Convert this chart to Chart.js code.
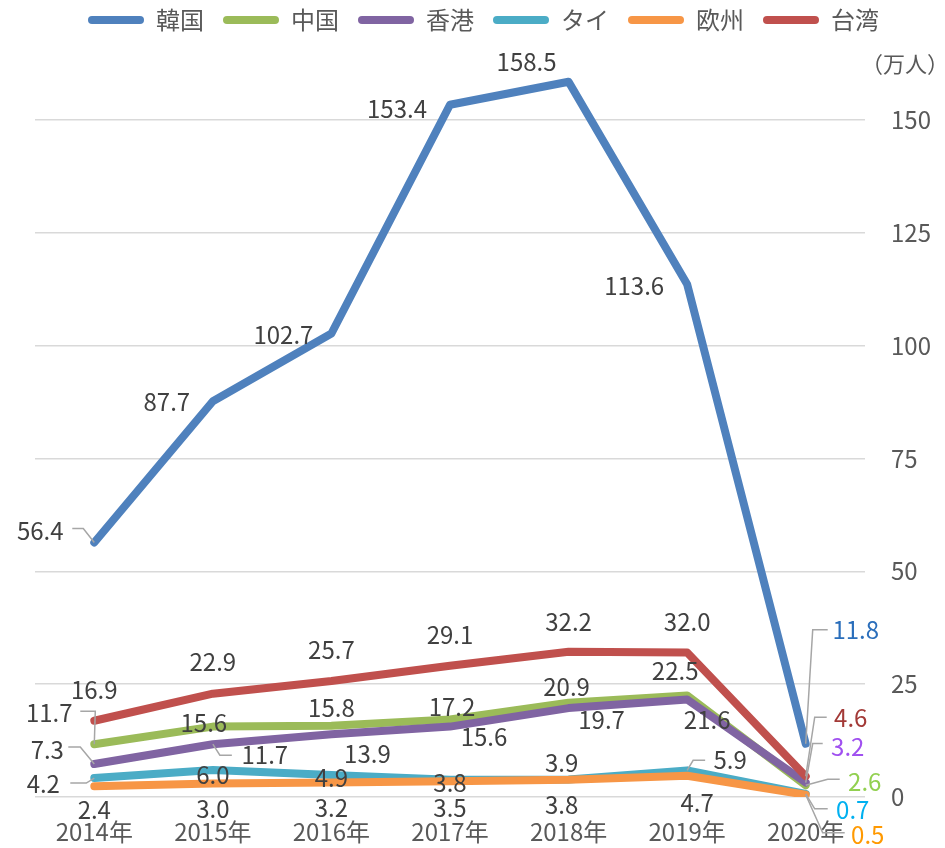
<!DOCTYPE html>
<html lang="ja">
<head>
<meta charset="utf-8">
<script src="https://cdn.jsdelivr.net/npm/chart.js@4/dist/chart.umd.min.js"></script>
<style>
  html, body { margin: 0; padding: 0; background: #fff; }
  #wrap { width: 945px; height: 848px; }
</style>
</head>
<body>
<div id="wrap"><canvas id="graphique"></canvas></div>
<script>
// Données (万人)
const annees = ["2014年", "2015年", "2016年", "2017年", "2018年", "2019年", "2020年"];
const pays = ["韓国", "中国", "香港", "タイ", "欧州", "台湾"];
const coree = [56.4, 87.7, 102.7, 153.4, 158.5, 113.6, 11.8];
const chine = [11.7, 15.6, 15.8, 17.2, 20.9, 22.5, 2.6];
const hongkong = [7.3, 11.7, 13.9, 15.6, 19.7, 21.6, 3.2];
const thailande = [4.2, 6.0, 4.9, 3.8, 3.9, 5.9, 0.7];
const europe = [2.4, 3.0, 3.2, 3.5, 3.8, 4.7, 0.5];
const taiwan = [16.9, 22.9, 25.7, 29.1, 32.2, 32.0, 4.6];

const couleurs = ["#4F81BD", "#9BBB59", "#8064A2", "#4BACC6", "#F79646", "#C0504D"];
// couleur de l'étiquette du dernier point (2020)
const couleurFinParSerie = ["#2A6EBB", "#92D050", "#A050F0", "#00B0F0", "#FF9900", "#A33A37"];

// Décalage des étiquettes par rapport au point [dx, dy] + ligne de rappel éventuelle
const placement = [
  // 韓国
  [[-54, -12, [[-22, -14], [-11, -14]]], [-46, 1], [-48, 1], [-53, 4], [-42, -20], [-53, 2],
   [50, -114, [[22, -114], [7, -114]]]],
  // 中国
  [[-45, -31, [[-14, -33], [1, -33]]], [-9, -4], [0, -18], [2, -13], [-2, -16], [-12, -25],
   [59, -3, [[34, -6], [22, -6]]]],
  // 香港
  [[-47, -14, [[-26, -17], [-14, -17]]], [52, 11, [[19, 11], [7, 11]]], [36, 20], [34, 10], [33, 12], [20, 20],
   [42, -36, [[17, -39], [7, -39]]]],
  // タイ
  [[-51, 6, [[-24, 5], [-8, 5]]], [0, 5], [0, 3], [0, 3], [-7, -17], [43, -10, [[18, -10], [6, -10]]],
   [47, 16, [[22, 15], [9, 15]]]],
  // 欧州
  [[0, 24], [0, 25], [0, 25], [0, 27], [-7, 25], [10, 27], [62, 40, [[39, 38], [17, 38]]]],
  // 台湾
  [[0, -31], [0, -32], [0, -31], [0, -31], [0, -30], [0, -31], [45, -58, [[21, -59], [9, -59]]]]
];

const police = '"Noto Sans CJK JP", "Noto Sans", sans-serif';

// Plugin : étiquettes de données avec lignes de rappel
const etiquettes = {
  id: "etiquettes",
  afterDatasetsDraw(chart) {
    const ctx = chart.ctx;
    ctx.save();
    ctx.font = "24px " + police;
    ctx.textAlign = "center";
    ctx.textBaseline = "middle";
    chart.data.datasets.forEach((ds, i) => {
      const meta = chart.getDatasetMeta(i);
      meta.data.forEach((pt, j) => {
        const p = placement[i][j];
        if (p[2]) {
          ctx.strokeStyle = "#A6A6A6";
          ctx.lineWidth = 1.5;
          ctx.beginPath();
          ctx.moveTo(pt.x + p[2][0][0], pt.y + p[2][0][1]);
          for (let k = 1; k < p[2].length; k++) {
            ctx.lineTo(pt.x + p[2][k][0], pt.y + p[2][k][1]);
          }
          ctx.lineTo(pt.x, pt.y);
          ctx.stroke();
        }
        ctx.fillStyle = j === ds.data.length - 1 ? couleurFinParSerie[i] : "#404040";
        ctx.fillText(ds.data[j].toFixed(1), pt.x + p[0], pt.y + p[1]);
      });
    });
    // unité de l'axe
    ctx.font = "22px " + police;
    ctx.fillStyle = "#595959";
    ctx.fillText("（万人）", 905, 64);
    ctx.restore();
  }
};

const series = [coree, chine, hongkong, thailande, europe, taiwan];

const data = {
  labels: annees,
  datasets: series.map((valeurs, i) => ({
    label: pays[i],
    data: valeurs,
    borderColor: couleurs[i],
    backgroundColor: couleurs[i],
    borderWidth: 8,
    borderCapStyle: "round",
    borderJoinStyle: "round",
    pointRadius: 0,
    tension: 0,
    order: -i // les dernières séries passent au-dessus
  }))
};

// fixe la taille des axes pour caler la zone de tracé
function sansMarges(scale) {
  scale.paddingLeft = 0;
  scale.paddingRight = 0;
  scale.paddingTop = 0;
  scale.paddingBottom = 0;
}

const config = {
  type: "line",
  data: data,
  options: {
    responsive: false,
    animation: false,
    layout: { padding: { top: -11, left: 35, right: 13, bottom: 0 } },
    plugins: {
      tooltip: { enabled: false },
      legend: {
        position: "top",
        labels: {
          font: { family: police, size: 24 },
          color: "#595959",
          boxWidth: 56,
          boxHeight: 8,
          padding: 19,
          useBorderRadius: true,
          borderRadius: 4,
          sort: (a, b) => a.datasetIndex - b.datasetIndex,
          generateLabels(chart) {
            const items = Chart.defaults.plugins.legend.labels.generateLabels(chart);
            items.forEach(it => {
              it.lineWidth = 0;
              it.fillStyle = it.strokeStyle;
              it.borderRadius = 4;
            });
            return items;
          }
        }
      }
    },
    scales: {
      x: {
        offset: true,
        grid: { display: false, drawTicks: false },
        border: { display: false },
        ticks: { font: { family: police, size: 24 }, color: "#595959", padding: 20, maxRotation: 0 },
        afterFit(scale) {
          scale.height = 51;
          sansMarges(scale);
        }
      },
      y: {
        position: "right",
        min: 0,
        max: 167.3,
        grid: { color: "#D9D9D9", lineWidth: 1.5, drawTicks: false },
        border: { display: false },
        ticks: { stepSize: 25, font: { family: police, size: 24 }, color: "#595959", padding: 26 },
        afterBuildTicks(scale) {
          scale.ticks = scale.ticks.filter(t => t.value % 25 === 0);
        },
        afterFit(scale) {
          scale.width = 67;
          sansMarges(scale);
        }
      }
    }
  },
  plugins: [etiquettes]
};

const canvas = document.querySelector("#graphique");
canvas.width = 945;
canvas.height = 848;
new Chart(canvas, config);
</script>
</body>
</html>
